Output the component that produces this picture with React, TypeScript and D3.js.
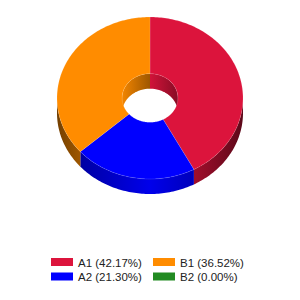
import React from "react";
import * as d3 from "d3";

// slice data, clockwise from 12 o'clock
const labels = ["A1", "A2", "B1", "B2"];
const values = [42.17, 21.3, 36.52, 0];
const colors = ["#dc143c", "#0000ff", "#ff8c00", "#228b22"];
// legend is laid out row by row, two columns
const legendOrder = ["A1", "B1", "A2", "B2"];

const W = 300,
  H = 300;
const cx = 150,
  cy = 98,
  rx = 93,
  ry = 81,
  depth = 15,
  inner = 0.3;

const shade = (c: string, k: number) => {
  const r = d3.rgb(c);
  return d3.rgb(r.r * k, r.g * k, r.b * k).formatHex();
};

// point on the tilted ellipse for a pie angle (0 = top, clockwise)
const pt = (a: number, f: number, dy = 0): [number, number] => [
  cx + rx * f * Math.sin(a),
  cy - ry * f * Math.cos(a) + dy,
];

const arcPts = (a0: number, a1: number, f: number, dy = 0) => {
  const n = Math.max(2, Math.ceil(Math.abs(a1 - a0) / 0.02));
  return d3.range(n + 1).map((i) => pt(a0 + ((a1 - a0) * i) / n, f, dy));
};

const line = d3.line().curve(d3.curveLinear);

const band = (a0: number, a1: number, f: number) =>
  line([...arcPts(a0, a1, f), ...arcPts(a1, a0, f, depth)]) + "Z";

const topFace = (a0: number, a1: number) =>
  line([...arcPts(a0, a1, 1), ...arcPts(a1, a0, inner)]) + "Z";

const clampRange = (a0: number, a1: number, lo: number, hi: number) => {
  const s = Math.max(a0, lo),
    e = Math.min(a1, hi);
  return e > s ? [s, e] : null;
};

const App = () => {
  const pie = d3
    .pie<number>()
    .sort(null)
    .value((d) => d);
  const arcs = pie(values);

  const sides: { d: string; i: number }[] = [];
  const walls: { d: string; i: number; x0: number; x1: number }[] = [];
  arcs.forEach((a, i) => {
    if (a.endAngle - a.startAngle <= 0) return;
    const f = clampRange(a.startAngle, a.endAngle, Math.PI / 2, (3 * Math.PI) / 2);
    if (f) sides.push({ d: band(f[0], f[1], 1), i });
    // back half of the hole wall (visible through the hole)
    [
      [0, Math.PI / 2],
      [(3 * Math.PI) / 2, 2 * Math.PI],
    ].forEach(([lo, hi]) => {
      const b = clampRange(a.startAngle, a.endAngle, lo, hi);
      if (b) {
        const xs = [pt(b[0], inner)[0], pt(b[1], inner)[0]];
        walls.push({ d: band(b[0], b[1], inner), i, x0: d3.min(xs)!, x1: d3.max(xs)! });
      }
    });
  });

  const legendX = d3.scaleOrdinal<number>().domain(["0", "1"]).range([51, 153]);
  const legendY = d3.scaleOrdinal<number>().domain(["0", "1"]).range([258, 272.5]);

  return (
    <svg width={W} height={H} style={{ position: "absolute", left: 0, top: 0 }}>
      <defs>
        {colors.map((c, i) => (
          <linearGradient
            key={i}
            id={"side" + i}
            gradientUnits="userSpaceOnUse"
            x1={cx - rx}
            x2={cx + rx}
            y1={0}
            y2={0}
          >
            <stop offset="0" stopColor={shade(c, 0.45)} />
            <stop offset="0.15" stopColor={shade(c, 0.66)} />
            <stop offset="0.5" stopColor={shade(c, 0.92)} />
            <stop offset="0.75" stopColor={shade(c, 0.72)} />
            <stop offset="1" stopColor={shade(c, 0.42)} />
          </linearGradient>
        ))}
        {walls.map((w, k) => (
          <linearGradient
            key={k}
            id={"wall" + k}
            gradientUnits="userSpaceOnUse"
            x1={w.x0}
            x2={w.x1}
            y1={0}
            y2={0}
          >
            <stop offset="0" stopColor={shade(colors[w.i], 0.95)} />
            <stop offset="1" stopColor={shade(colors[w.i], 0.62)} />
          </linearGradient>
        ))}
      </defs>
      <rect width={W} height={H} fill="#fff" />
      {walls.map((w, k) => (
        <path key={"w" + k} d={w.d} fill={`url(#wall${k})`} />
      ))}
      {sides.map((s, k) => (
        <path key={"s" + k} d={s.d} fill={`url(#side${s.i})`} />
      ))}
      {arcs.map((a, i) =>
        a.endAngle - a.startAngle > 0 ? (
          <path
            key={"t" + i}
            d={topFace(a.startAngle, a.endAngle)}
            fill={colors[i]}
            stroke="rgba(255,255,255,0.25)"
            strokeWidth={0.5}
          />
        ) : null
      )}
      <g fontFamily="Liberation Sans, Arial, sans-serif" fontSize={11.5} fill="#222">
        {legendOrder.map((l, k) => {
          const i = labels.indexOf(l);
          const x = legendX(String(k % 2));
          const y = legendY(String(Math.floor(k / 2)));
          return (
            <g key={l}>
              <rect x={x} y={y} width={22} height={8} fill={colors[i]} />
              <text x={x + 27} y={y + 8.5}>
                {`${l} (${values[i].toFixed(2)}%)`}
              </text>
            </g>
          );
        })}
      </g>
    </svg>
  );
};

export default App;
